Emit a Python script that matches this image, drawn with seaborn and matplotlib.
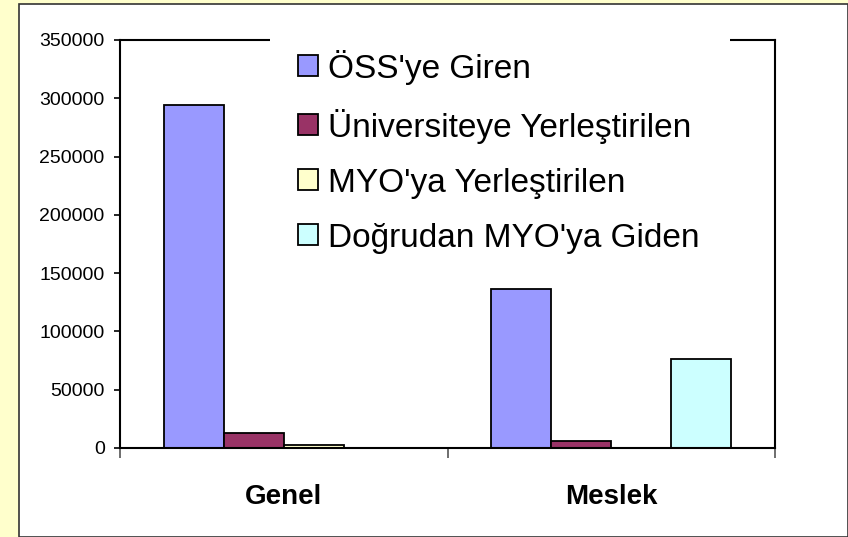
import pandas as pd
import matplotlib.pyplot as plt
import matplotlib.patches as mpatches
import seaborn as sns

# chart values
categories = ['Genel', 'Meslek']
series = ["ÖSS'ye Giren", 'Üniversiteye Yerleştirilen',
          "MYO'ya Yerleştirilen", "Doğrudan MYO'ya Giden"]
oss_giren = [294000, 136000]
univ_yerlesen = [12500, 6000]
myo_yerlesen = [3000, 0]
dogrudan_myo = [0, 76000]
colors = ['#9999FF', '#993366', '#FFFFCC', '#CCFFFF']
yticks = [0, 50000, 100000, 150000, 200000, 250000, 300000, 350000]

df = pd.DataFrame({
    'kategori': categories * 4,
    'seri': [s for s in series for _ in categories],
    'deger': oss_giren + univ_yerlesen + myo_yerlesen + dogrudan_myo,
})

sns.set_style("white")
plt.rcParams['font.family'] = ['Liberation Sans', 'DejaVu Sans']
plt.rcParams['text.color'] = 'black'
plt.rcParams['xtick.color'] = 'black'
plt.rcParams['ytick.color'] = 'black'

W, H = 848, 537
fig = plt.figure(figsize=(W / 100, H / 100), dpi=100, facecolor='#FFFFCC')
# white chart area with dark border
fig.patches.append(mpatches.Rectangle((19 / W, 0), 1 - 19 / W, 1 - 4 / H,
                                      transform=fig.transFigure, facecolor='white',
                                      edgecolor='#333333', linewidth=1.2, zorder=-1))
ax = fig.add_axes([120 / W, 89 / H, 655 / W, 408 / H])
ax.set_facecolor('white')

sns.barplot(data=df, x='kategori', y='deger', hue='seri', palette=colors,
            width=0.733, gap=0, edgecolor='black', linewidth=1.3, saturation=1,
            ax=ax)

ax.set_ylim(0, 350000)
ax.set_xlim(-0.5, 1.5)
ax.set_yticks(yticks)
ax.set_yticklabels([str(v) for v in yticks], fontsize=14)
ax.set_xlabel('')
ax.set_ylabel('')
for lbl in ax.get_xticklabels():
    lbl.set_fontweight('bold')
    lbl.set_fontsize(20)
ax.tick_params(axis='x', which='major', length=0, pad=26)
ax.set_xticks([-0.5, 0.5, 1.5], minor=True)
ax.tick_params(axis='x', which='minor', bottom=True, length=7, width=1.2,
               color='#555555', direction='out')
ax.tick_params(axis='y', length=4, width=1.2, direction='out', left=True, pad=7)
for sp in ax.spines.values():
    sp.set_color('black')
    sp.set_linewidth(1.5)

# legend area hides part of the top border
fig.patches.append(mpatches.Rectangle((270 / W, 1 - 48 / H), 460 / W, 16 / H,
                                      transform=fig.transFigure, facecolor='white',
                                      edgecolor='none', zorder=4))
handles, labels = ax.get_legend_handles_labels()
leg = fig.legend(handles, labels, loc='upper left',
                 bbox_to_anchor=(281 / W, 1 - 33 / H), borderaxespad=0,
                 fontsize=24, frameon=False, handlelength=0.6, handleheight=0.6,
                 handletextpad=0.3, labelspacing=0.72, borderpad=0.5)
ax.get_legend().remove()
leg.set_zorder(5)

plt.savefig('out.png', dpi=100, facecolor=fig.get_facecolor())
plt.close()
